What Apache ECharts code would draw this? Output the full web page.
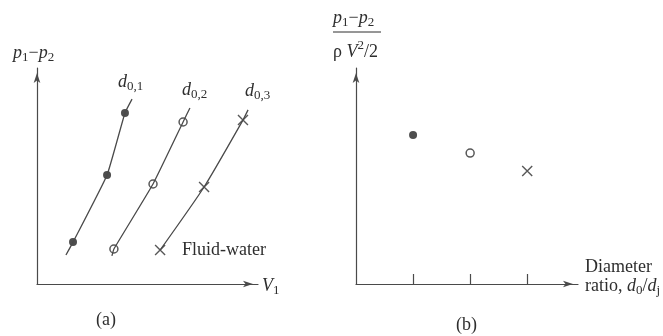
<!DOCTYPE html>
<html><head><meta charset="utf-8">
<script src="https://cdn.jsdelivr.net/npm/echarts@6/dist/echarts.min.js"></script>
<style>html,body{margin:0;padding:0;background:#fff}#c{width:663px;height:336px}</style>
</head><body><div id="c"></div>
<script>
// ---- Panel (a): pressure drop p1-p2 vs velocity V1 (arbitrary units, 0-100) ----
const d01Pts = [[16.3,19.4],[31.7,50.5],[39.8,79.2]];
const d02Pts = [[34.8,16.2],[52.5,46.3],[66.1,75.0]];
const d03Pts = [[55.7,15.7],[75.6,44.9],[93.2,75.9]];
// drawn curves extend slightly past the markers
const d01Curve = [[13.1,13.4],[16.3,19.4],[31.7,50.5],[39.8,79.2],[43.0,85.6]];
const d02Curve = [[33.9,13.0],[34.8,16.2],[52.5,46.3],[66.1,75.0],[69.2,81.5]];
const d03Curve = [[55.7,15.7],[75.6,44.9],[93.2,75.9],[95.5,80.6]];
// ---- Panel (b): loss coefficient vs diameter ratio ----
const ratioX = [1, 2, 3];
const coefB = [69.0, 60.6, 52.3];
const ratioTicks = [1, 2, 3];

const INK = '#2e2e2e', LINE = '#4a4a4a';
const SERIF = '"Liberation Serif", "DejaVu Serif", serif';
const ctx = document.createElement('canvas').getContext('2d');
function tw(t, font){ ctx.font = font; return ctx.measureText(t).width; }
function label(x, y, parts){
  let cx = x; const els = [];
  parts.forEach(([t, s]) => {
    const small = (s === 'sub' || s === 'sup');
    const size = small ? 13 : 18;
    const italic = (s === 'i');
    const font = (italic ? 'italic ' : '') + size + 'px ' + SERIF;
    const dy = s === 'sub' ? 5 : (s === 'sup' ? -6 : 0);
    els.push({type:'text', x: cx, y: y + dy, silent: true,
      style:{text: t, font: font, fill: INK, align:'left', verticalAlign:'middle'}});
    cx += tw(t, font);
  });
  return els;
}

const crossPath = 'path://M0,0L10,10M10,0L0,10';
const axisLine = {show:true, symbol:['none','arrow'], symbolSize:[5,10], symbolOffset:[0,-5],
  lineStyle:{color:LINE, width:1.2}};

const chart = echarts.init(document.getElementById('c'), null, {renderer:'canvas'});
const graphics = [].concat(
  label(13, 53, [['p','i'],['1','sub'],['\u2212','n'],['p','i'],['2','sub']]),
  label(118, 82, [['d','i'],['0,1','sub']]),
  label(182, 90, [['d','i'],['0,2','sub']]),
  label(245, 91, [['d','i'],['0,3','sub']]),
  label(182, 250, [['Fluid-water','n']]),
  label(262, 286, [['V','i'],['1','sub']]),
  label(96, 320, [['(a)','n']]),
  label(456, 325, [['(b)','n']]),
  label(333, 18, [['p','i'],['1','sub'],['\u2212','n'],['p','i'],['2','sub']]),
  label(333, 52, [['\u03c1','n'],[' V','i'],['2','sup'],['/2','n']]),
  label(585, 267, [['Diameter','n']]),
  label(585, 286, [['ratio, ','n'],['d','i'],['0','sub'],['/','n'],['d','i'],['j','sub']]),
  [{type:'line', silent:true, shape:{x1:333,y1:32,x2:381,y2:32}, style:{stroke:INK, lineWidth:1}}]
);

chart.setOption({
  backgroundColor:'#fff',
  animation:false,
  grid:[
    {left:37, top:68, width:221, height:216},
    {left:356, top:68, width:222, height:216}
  ],
  xAxis:[
    {gridIndex:0, type:'value', min:0, max:100, axisLine:axisLine,
     axisTick:{show:false}, axisLabel:{show:false}, splitLine:{show:false}},
    {gridIndex:1, type:'value', min:0, max:3.89, interval:1, axisLine:axisLine,
     axisTick:{show:true, inside:true, length:10, customValues:ratioTicks, lineStyle:{color:LINE, width:1.2}},
     axisLabel:{show:false}, splitLine:{show:false}}
  ],
  yAxis:[
    {gridIndex:0, type:'value', min:0, max:100, axisLine:axisLine,
     axisTick:{show:false}, axisLabel:{show:false}, splitLine:{show:false}},
    {gridIndex:1, type:'value', min:0, max:100, axisLine:axisLine,
     axisTick:{show:false}, axisLabel:{show:false}, splitLine:{show:false}}
  ],
  series:[
    {type:'line', xAxisIndex:0, yAxisIndex:0, data:d01Curve, smooth:0.12, showSymbol:false, lineStyle:{color:LINE, width:1.3}},
    {type:'line', xAxisIndex:0, yAxisIndex:0, data:d02Curve, smooth:0.12, showSymbol:false, lineStyle:{color:LINE, width:1.3}},
    {type:'line', xAxisIndex:0, yAxisIndex:0, data:d03Curve, smooth:0.2, showSymbol:false, lineStyle:{color:LINE, width:1.3}},
    {type:'scatter', xAxisIndex:0, yAxisIndex:0, data:d01Pts, symbol:'circle', symbolSize:8, itemStyle:{color:'#222'}},
    {type:'scatter', xAxisIndex:0, yAxisIndex:0, data:d02Pts, symbol:'circle', symbolSize:8,
     itemStyle:{color:'#fff', borderColor:INK, borderWidth:1.5}},
    {type:'scatter', xAxisIndex:0, yAxisIndex:0, data:d03Pts, symbol:crossPath, symbolSize:10,
     itemStyle:{color:'none', borderColor:INK, borderWidth:1.4}},
    {type:'scatter', xAxisIndex:1, yAxisIndex:1, data:[[ratioX[0], coefB[0]]], symbol:'circle', symbolSize:8, itemStyle:{color:'#222'}},
    {type:'scatter', xAxisIndex:1, yAxisIndex:1, data:[[ratioX[1], coefB[1]]], symbol:'circle', symbolSize:8,
     itemStyle:{color:'#fff', borderColor:INK, borderWidth:1.5}},
    {type:'scatter', xAxisIndex:1, yAxisIndex:1, data:[[ratioX[2], coefB[2]]], symbol:crossPath, symbolSize:10,
     itemStyle:{color:'none', borderColor:INK, borderWidth:1.4}}
  ],
  graphic: graphics
});
</script></body></html>
